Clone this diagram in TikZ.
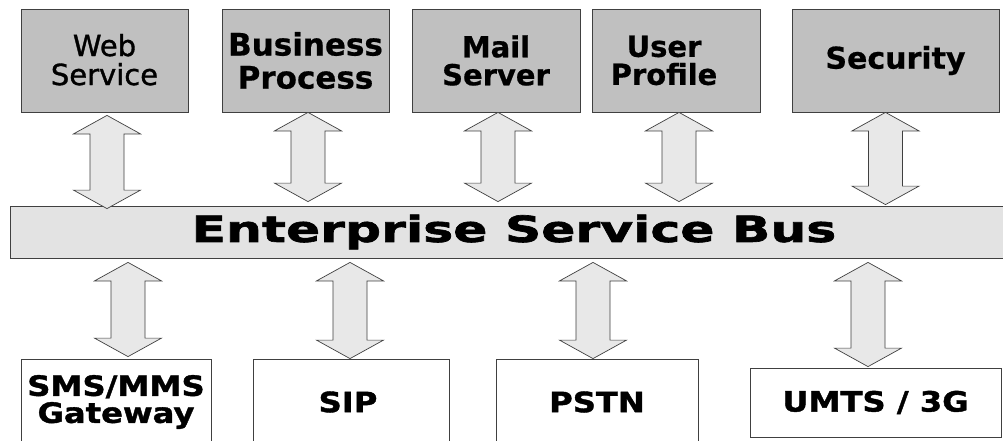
\documentclass[tikz,border=0pt]{standalone}
\usepackage{fontspec}
\setmainfont{DejaVu Sans}
\newfontfamily\topfont[FakeBold=0.6]{DejaVu Sans}
\newfontfamily\webfont[FakeBold=1.2]{DejaVu Sans}
\newfontfamily\busfont[FakeStretch=1.40,FakeBold=1.8]{DejaVu Sans}
\newfontfamily\botfont[FakeStretch=1.15,FakeBold=1.4]{DejaVu Sans}
\usetikzlibrary{calc}
\definecolor{boxgray}{HTML}{C0C0C0}
\definecolor{edgegray}{HTML}{404040}
\definecolor{barfill}{HTML}{E3E3E3}
\definecolor{arrowfill}{HTML}{E8E8E8}
\tikzset{
  topbox/.style={draw=edgegray, line width=0.8pt, fill=boxgray, rectangle, inner sep=0pt,
    minimum height=103pt, align=center, font=\topfont\bfseries\fontsize{29}{28}\selectfont},
  botbox/.style={draw=edgegray, line width=0.8pt, fill=white, rectangle, inner sep=0pt,
    align=center, font=\botfont\bfseries\fontsize{28}{27}\selectfont},
  busbar/.style={draw=edgegray, line width=0.8pt, fill=barfill, rectangle, inner sep=0pt,
    minimum width=1000pt, minimum height=52pt, font=\busfont\bfseries\fontsize{36}{40}\selectfont},
  blockarrow/.style={draw=edgegray, line width=0.7pt, fill=arrowfill, line join=miter}
}
\newcommand\bigarrow[2]{%
  \draw[blockarrow] let \p1=(#1), \p2=(#2) in
    (\x1,\y1) -- (\x1+33.5pt,\y1-18.5pt) -- (\x1+17pt,\y1-18.5pt) -- (\x1+17pt,\y2+18.5pt)
    -- (\x1+33.5pt,\y2+18.5pt) -- (\x1,\y2) -- (\x1-33.5pt,\y2+18.5pt) -- (\x1-17pt,\y2+18.5pt)
    -- (\x1-17pt,\y1-18.5pt) -- (\x1-33.5pt,\y1-18.5pt) -- cycle;}
\begin{document}
\begin{tikzpicture}[x=1pt,y=1pt]
\useasboundingbox (0,0) rectangle (1003,-440);
\clip (0,0) rectangle (1003,-440);
\fill[white] (0,0) rectangle (1003,-440);
% top boxes
\node[topbox, minimum width=167pt, font=\webfont\fontsize{29}{29}\selectfont] (web) at (104.5,-60.5) {\raisebox{2pt}{Web}\\\raisebox{2pt}{Service}};
\node[topbox, minimum width=167pt, font=\topfont\bfseries\fontsize{31}{33}\selectfont] (bp) at (305.5,-60.5) {Business\\Process};
\node[topbox, minimum width=168pt] (mail) at (496,-60.5) {Mail\\Server};
\node[topbox, minimum width=168pt] (user) at (676,-60.5) {\hspace*{-24pt}User\\\hspace*{-24pt}Profile};
\node[topbox, minimum width=207pt, font=\topfont\bfseries\fontsize{30}{30}\selectfont] (sec) at (895.5,-60.5) {Security};
% bus
\node[busbar] (bus) at (510,-232) {\raisebox{-2pt}{\hspace*{8pt}Enterprise Service Bus}};
% bottom boxes
\node[botbox, minimum width=190pt, minimum height=86pt] (sms) at (116,-402) {SMS/MMS\\Gateway};
\node[botbox, minimum width=196pt, minimum height=86pt] (sip) at (351,-402) {\hspace*{-6pt}SIP};
\node[botbox, minimum width=202pt, minimum height=86pt] (pstn) at (597,-402) {PSTN};
\node[botbox, minimum width=251pt, minimum height=69pt] (umts) at (875.5,-402.5) {UMTS~/~3G};
% arrows top
\bigarrow{$(web.south)+(2.5,-3)$}{$(web.south |- bus.north)+(2.5,-3)$}
\bigarrow{$(bp.south)+(2.5,0)$}{$(bp.south |- bus.north)+(2.5,4)$}
\bigarrow{$(mail.south)+(2,0)$}{$(mail.south |- bus.north)+(2,4)$}
\bigarrow{$(user.south)+(3,0)$}{$(user.south |- bus.north)+(3,4)$}
\bigarrow{$(sec.south)+(-10,0)$}{$(sec.south |- bus.north)+(-10,1)$}
% arrows bottom
\bigarrow{$(bus.south -| sms.north)+(12,-4)$}{$(sms.north)+(12,2)$}
\bigarrow{$(bus.south -| sip.north)+(-1,-4)$}{$(sip.north)+(-1,0)$}
\bigarrow{$(bus.south -| pstn.north)+(-4,-4)$}{$(pstn.north)+(-4,0)$}
\bigarrow{$(bus.south -| umts.north)+(-7.5,-4)$}{$(umts.north)+(-7.5,1)$}
\end{tikzpicture}
\end{document}
